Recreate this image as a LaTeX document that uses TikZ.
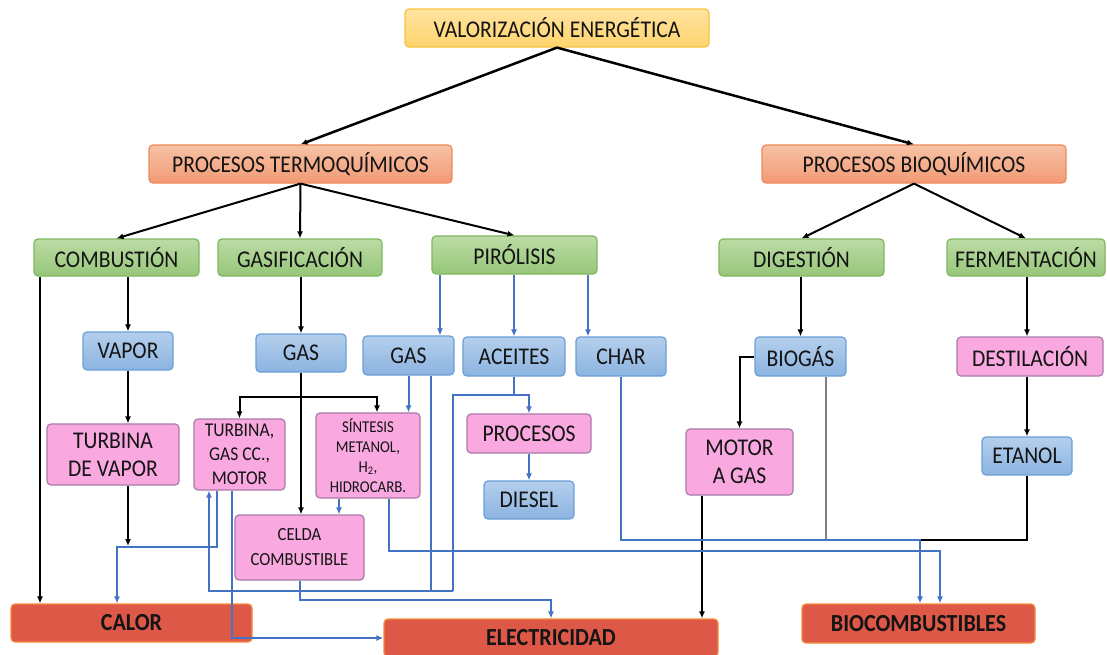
\documentclass[tikz,border=0pt]{standalone}
\usepackage{fontspec}
\setmainfont{Carlito}[FakeStretch=0.9]
\usetikzlibrary{arrows.meta}
\definecolor{txt}{HTML}{141414}
\definecolor{yelT}{HTML}{FFE3A0}
\definecolor{yelF}{HTML}{FFD46E}
\definecolor{yelB}{HTML}{F6C244}
\definecolor{salT}{HTML}{F7C2A6}
\definecolor{salF}{HTML}{F29A74}
\definecolor{salB}{HTML}{EE8A5A}
\definecolor{grnT}{HTML}{BCDCA6}
\definecolor{grnF}{HTML}{96C679}
\definecolor{grnB}{HTML}{7FB85E}
\definecolor{bluT}{HTML}{B4CFEC}
\definecolor{bluF}{HTML}{8CB3E0}
\definecolor{bluB}{HTML}{6C9FD8}
\definecolor{pnkF}{HTML}{F9A8E0}
\definecolor{pnkB}{HTML}{A87AA8}
\definecolor{redF}{HTML}{DE5848}
\definecolor{redB}{HTML}{F28C3C}
\definecolor{lineblue}{HTML}{4472C4}
\begin{document}
\begin{tikzpicture}[x=1pt,y=-1pt,
  box/.style={rounded corners=4pt, line width=1.2pt, align=center, inner sep=0pt, text=txt,
    font=\fontsize{24}{28}\selectfont},
  yel/.style={box, draw=yelB, top color=yelT, bottom color=yelF},
  sal/.style={box, draw=salB, top color=salT, bottom color=salF},
  grn/.style={box, draw=grnB, top color=grnT, bottom color=grnF},
  blu/.style={box, draw=bluB, top color=bluT, bottom color=bluF},
  pnk/.style={box, draw=pnkB, fill=pnkF},
  red/.style={box, draw=redB, fill=redF, font=\fontsize{24.5}{28}\selectfont\bfseries},
  blk/.style={line width=2pt, draw=black, -{Latex[length=7pt,width=6pt]}},
  blkline/.style={line width=2pt, draw=black},
  bla/.style={line width=2pt, draw=lineblue, -{Latex[length=7pt,width=6pt]}},
  blaline/.style={line width=2pt, draw=lineblue},
  blathin/.style={line width=1.1pt, draw=lineblue},
  gry/.style={line width=1.2pt, draw=gray}]
\useasboundingbox (0,0) rectangle (1107,654);
\fill[white] (0,0) rectangle (1107,654);
% helper coordinates
\foreach \x in {40,117,209,217,232,339,377,389,431,440,453,514,588,702,826,920,940,1027}
  {\coordinate (X\x) at (\x,0);}
\foreach \y in {395,397,540,546,547,551,591,600}
  {\coordinate (Y\y) at (0,\y);}
% nodes
\node[yel, minimum width=304pt, minimum height=38pt] (val) at (557,28) {VALORIZACIÓN ENERGÉTICA};
\node[sal, minimum width=303pt, minimum height=38pt] (termo) at (300.5,164) {PROCESOS TERMOQUÍMICOS};
\node[sal, minimum width=304pt, minimum height=38pt] (bio) at (914,164) {PROCESOS BIOQUÍMICOS};
\node[grn, minimum width=165pt, minimum height=37pt] (comb) at (116.5,257.5) {COMBUSTIÓN};
\node[grn, minimum width=164pt, minimum height=37pt] (gasif) at (300,257.5) {GASIFICACIÓN};
\node[grn, minimum width=165pt, minimum height=38pt] (piro) at (514.5,255) {PIRÓLISIS};
\node[grn, minimum width=165pt, minimum height=37pt] (dig) at (801.5,257.5) {DIGESTIÓN};
\node[grn, minimum width=158pt, minimum height=37pt] (ferm) at (1026,257.5) {FERMENTACIÓN};
\node[blu, minimum width=90pt, minimum height=38pt] (vapor) at (128,351) {VAPOR};
\node[blu, minimum width=90pt, minimum height=38pt] (gas1) at (301,353) {GAS};
\node[blu, minimum width=91pt, minimum height=39pt] (gas2) at (408.5,355.5) {GAS};
\node[blu, minimum width=102pt, minimum height=39pt] (aceites) at (514,356.5) {ACEITES};
\node[blu, minimum width=90pt, minimum height=39pt] (char) at (621,356.5) {CHAR};
\node[blu, minimum width=91pt, minimum height=39pt] (biogas) at (800.5,356.5) {BIOGÁS};
\node[pnk, minimum width=146pt, minimum height=39pt] (destil) at (1030,356.5) {DESTILACIÓN};
\node[pnk, minimum width=132pt, minimum height=61pt] (tv) at (113,454.5) {TURBINA\\DE VAPOR};
\node[pnk, minimum width=91pt, minimum height=71pt, font=\fontsize{19.5}{24}\selectfont] (tgm) at (239.5,454.5) {TURBINA,\\GAS CC.,\\MOTOR};
\node[pnk, minimum width=104pt, minimum height=85pt, font=\fontsize{16.5}{20}\selectfont] (sint) at (368,455.5) {SÍNTESIS\\METANOL,\\H\textsubscript{2},\\HIDROCARB.};
\node[pnk, minimum width=129pt, minimum height=65pt, font=\fontsize{18.5}{25}\selectfont] (celda) at (299.5,547.5) {CELDA\\COMBUSTIBLE};
\node[pnk, minimum width=124pt, minimum height=39pt] (proc) at (529,433.5) {PROCESOS};
\node[blu, minimum width=90pt, minimum height=38pt] (diesel) at (529,500) {DIESEL};
\node[pnk, minimum width=107pt, minimum height=66pt] (motor) at (739.5,462) {MOTOR\\A GAS};
\node[blu, minimum width=90pt, minimum height=38pt] (etanol) at (1027,456) {ETANOL};
\node[red, minimum width=241pt, minimum height=38pt] (calor) at (131.5,623) {CALOR};
\node[red, minimum width=334pt, minimum height=38pt] (elec) at (551,638) {ELECTRICIDAD};
\node[red, minimum width=233pt, minimum height=39pt] (biocomb) at (918.5,623.5) {BIOCOMBUSTIBLES};
% black connectors
\draw[blk, line width=2.5pt] (val.south) -- (termo.north);
\draw[blk, line width=2.5pt] (val.south) -- (bio.north);
\draw[blk] (termo.south) -- (comb.north);
\draw[blk] (termo.south) -- (gasif.north);
\draw[blk] (termo.south) -- (piro.north);
\draw[blk] (bio.south) -- (dig.north);
\draw[blk] (bio.south) -- (ferm.north);
\draw[blk] (comb.south -| X40) -- (calor.north -| X40);
\draw[blk] (comb.south -| vapor.north) -- (vapor.north);
\draw[blk] (vapor.south) -- (tv.north -| vapor.south);
\draw[blk] (tv.south -| vapor.south) -- (vapor.south |- Y546);
\draw[blk] (gasif.south -| gas1.north) -- (gas1.north);
\draw[blk] (gas1.south) -- (celda.north -| gas1.south);
\draw[blk] (gas1.south |- Y397) -| (tgm.north);
\draw[blk] (gas1.south |- Y397) -| (X377 |- sint.north);
\draw[blk] (dig.south -| biogas.north) -- (biogas.north);
\draw[blk] (biogas.west) -| (motor.north);
\draw[blk] (ferm.south -| X1027) -- (destil.north -| X1027);
\draw[blk] (destil.south -| X1027) -- (etanol.north);
\draw[blkline] (etanol.south) |- (X920 |- Y540);
\draw[blk] (motor.south -| X702) -- (elec.north -| X702);
\draw[gry] (biogas.south -| X826) -- (X826 |- Y540);
% blue connectors
\draw[bla] (piro.south -| X440) -- (gas2.north -| X440);
\draw[bla] (piro.south -| aceites.north) -- (aceites.north);
\draw[bla] (piro.south -| X588) -- (char.north -| X588);
\draw[bla] (gas2.south) -- (sint.north -| gas2.south);
\draw[blathin] (gas2.south -| X431) -- (X431 |- Y591);
\draw[bla] (aceites.south) -- (aceites.south |- Y395) -| (proc.north);
\draw[blathin] (X514 |- Y395) -- (X453 |- Y395) -- (X453 |- Y591);
\draw[bla] (X453 |- Y591) -- (X209 |- Y591) -- (tgm.south -| X209);
\draw[bla] (proc.south) -- (diesel.north);
\draw[bla] (char.south) |- (X920 |- Y540) -- (biocomb.north -| X920);
\draw[bla] (sint.south -| X339) -- (celda.north -| X339);
\draw[bla] (sint.south -| X389) |- (X940 |- Y551) -- (biocomb.north -| X940);
\draw[bla] (tgm.south -| X217) |- (X117 |- Y547) -- (calor.north -| X117);
\draw[bla] (tgm.south -| X232) |- (elec.west);
\draw[bla] (celda.south) |- (elec.north |- Y600) -- (elec.north);
\end{tikzpicture}
\end{document}
